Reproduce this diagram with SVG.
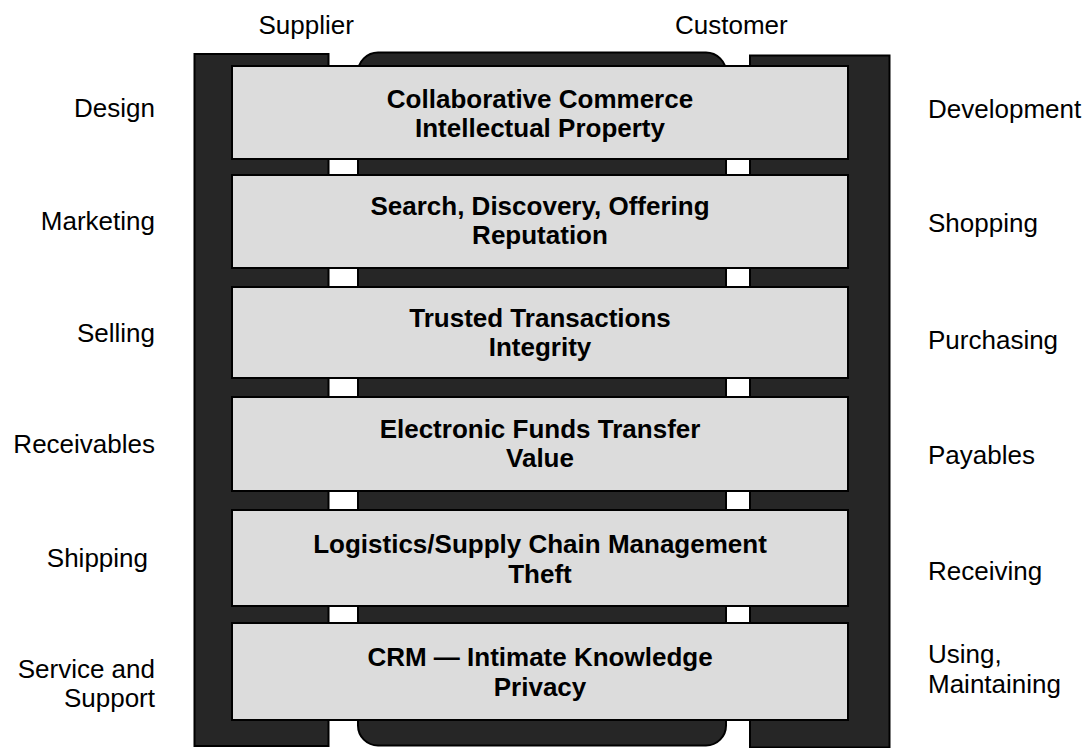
<svg xmlns="http://www.w3.org/2000/svg" width="1090" height="748" viewBox="0 0 1090 748">
  <style>
    .bar { fill: #262626; stroke: #000; stroke-width: 2; }
    .layer { fill: #dcdcdc; stroke: #000; stroke-width: 2; }
    .lbl { font-family: "Liberation Sans", Arial, Helvetica, sans-serif; font-size: 26px; fill: #000; }
    .title { font-family: "Liberation Sans", Arial, Helvetica, sans-serif; font-size: 26px; font-weight: bold; fill: #000; text-anchor: middle; }
    .left { text-anchor: end; }
  </style>
  <rect width="1090" height="748" fill="#fff"/>

  <!-- frame: supplier rail, shared core, customer rail -->
  <g id="frame">
    <rect id="supplier-rail" class="bar" x="194.5" y="54" width="134" height="692"/>
    <rect id="core" class="bar" x="358" y="52.5" width="368" height="693" rx="20" ry="20"/>
    <rect id="customer-rail" class="bar" x="750" y="55.5" width="139.5" height="692"/>
  </g>

  <g id="connectors"/>

  <!-- column headings -->
  <g id="heading-supplier"><text class="lbl" x="258.5" y="34">Supplier</text></g>
  <g id="heading-customer"><text class="lbl" x="675" y="34">Customer</text></g>

  <!-- layers -->
  <g id="layer-1">
    <rect class="layer" x="232" y="66" width="616" height="93"/>
    <text class="title" x="540" y="107.5">Collaborative Commerce</text>
    <text class="title" x="540" y="137">Intellectual Property</text>
  </g>
  <g id="layer-2">
    <rect class="layer" x="232" y="175" width="616" height="93"/>
    <text class="title" x="540" y="215">Search, Discovery, Offering</text>
    <text class="title" x="540" y="244">Reputation</text>
  </g>
  <g id="layer-3">
    <rect class="layer" x="232" y="287" width="616" height="91"/>
    <text class="title" x="540" y="327">Trusted Transactions</text>
    <text class="title" x="540" y="356">Integrity</text>
  </g>
  <g id="layer-4">
    <rect class="layer" x="232" y="397" width="616" height="94"/>
    <text class="title" x="540" y="438">Electronic Funds Transfer</text>
    <text class="title" x="540" y="467">Value</text>
  </g>
  <g id="layer-5">
    <rect class="layer" x="232" y="510" width="616" height="96"/>
    <text class="title" x="540" y="553">Logistics/Supply Chain Management</text>
    <text class="title" x="540" y="583">Theft</text>
  </g>
  <g id="layer-6">
    <rect class="layer" x="232" y="623" width="616" height="97"/>
    <text class="title" x="540" y="666">CRM — Intimate Knowledge</text>
    <text class="title" x="540" y="696">Privacy</text>
  </g>

  <!-- supplier activities -->
  <g id="supplier-design"><text class="lbl left" x="155" y="117">Design</text></g>
  <g id="supplier-marketing"><text class="lbl left" x="155" y="230">Marketing</text></g>
  <g id="supplier-selling"><text class="lbl left" x="155" y="342">Selling</text></g>
  <g id="supplier-receivables"><text class="lbl left" x="155" y="453">Receivables</text></g>
  <g id="supplier-shipping"><text class="lbl left" x="148" y="567">Shipping</text></g>
  <g id="supplier-service">
    <text class="lbl left" x="155" y="678">Service and</text>
    <text class="lbl left" x="155" y="707">Support</text>
  </g>

  <!-- customer activities -->
  <g id="customer-development"><text class="lbl" x="928" y="118">Development</text></g>
  <g id="customer-shopping"><text class="lbl" x="928" y="232">Shopping</text></g>
  <g id="customer-purchasing"><text class="lbl" x="928" y="349">Purchasing</text></g>
  <g id="customer-payables"><text class="lbl" x="928" y="464">Payables</text></g>
  <g id="customer-receiving"><text class="lbl" x="928" y="580">Receiving</text></g>
  <g id="customer-using">
    <text class="lbl" x="928" y="663">Using,</text>
    <text class="lbl" x="928" y="693">Maintaining</text>
  </g>
</svg>
